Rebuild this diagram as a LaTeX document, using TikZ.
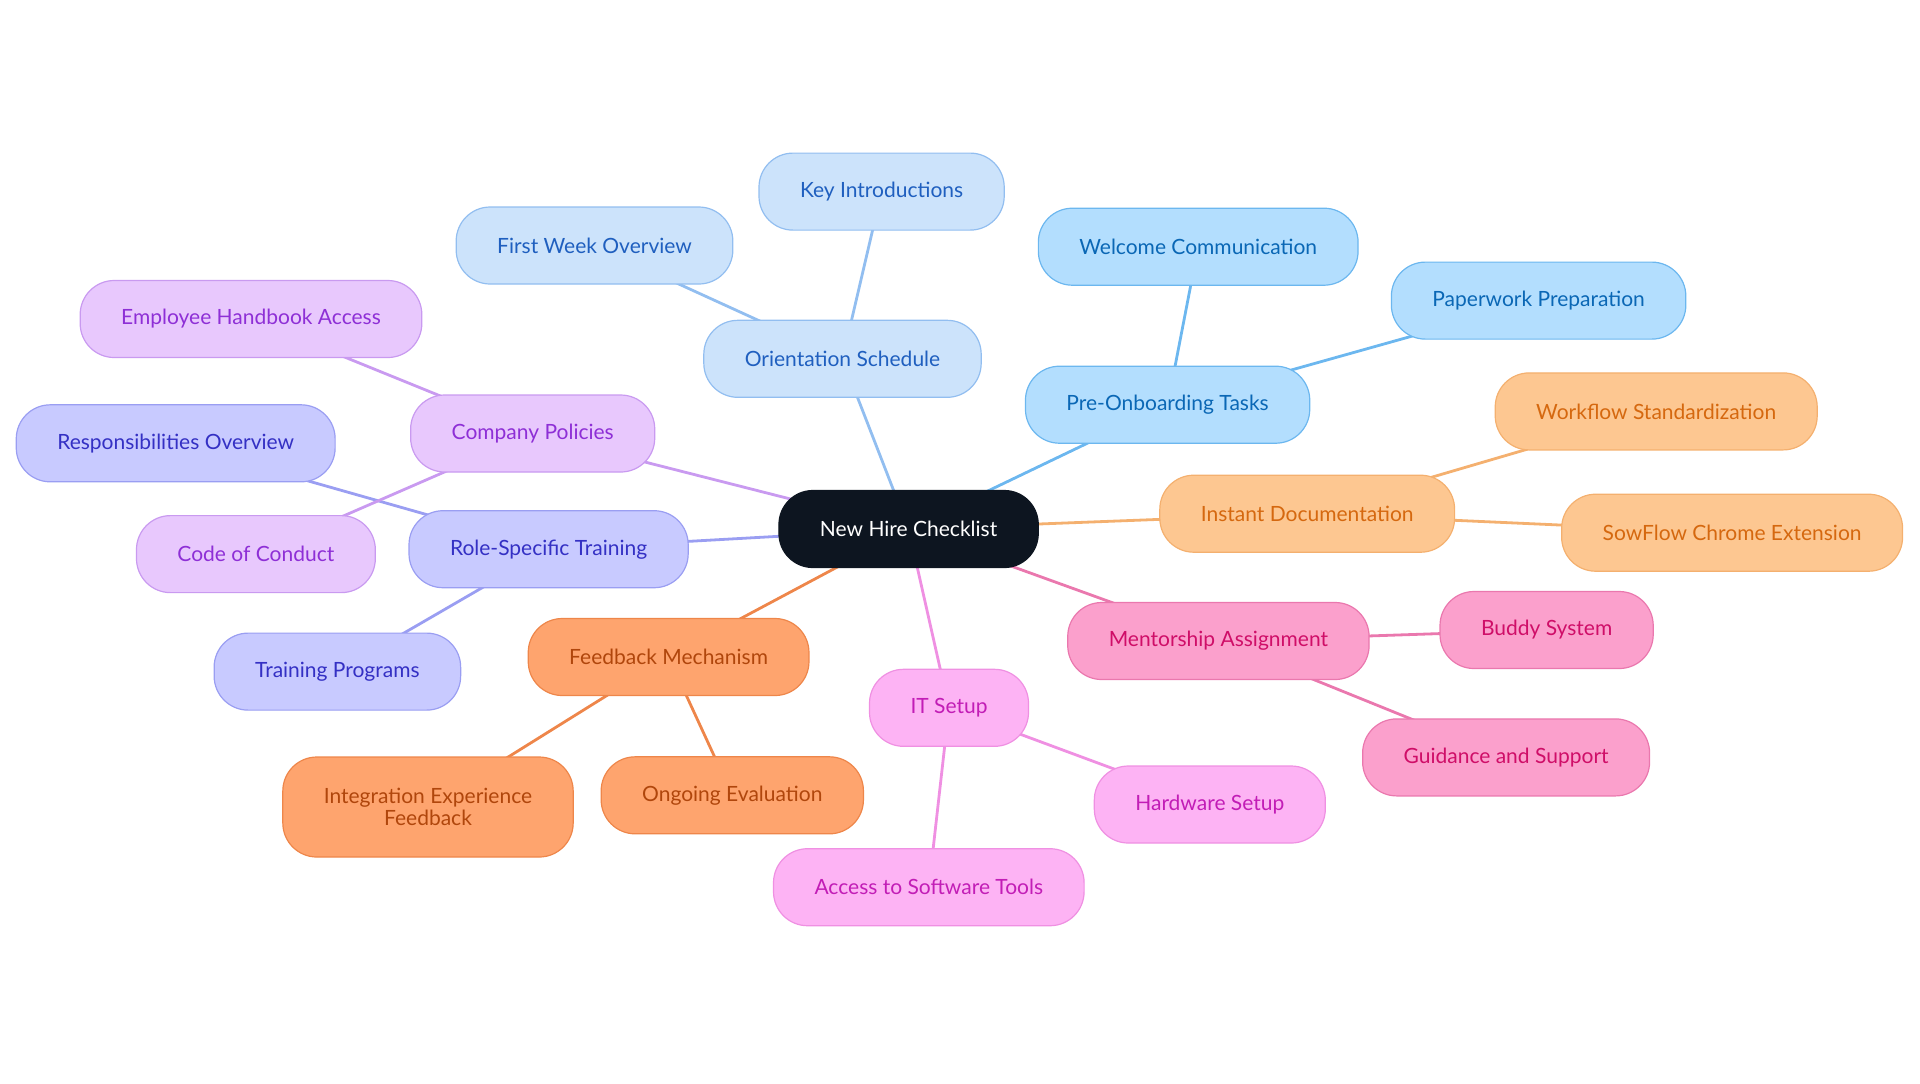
\documentclass[tikz,border=0pt]{standalone}
\usepackage{fontspec}
\setmainfont{Lato}
\usetikzlibrary{backgrounds}

\definecolor{raizfundo}{HTML}{0D1520}
\definecolor{azulA}{HTML}{CCE3FB}\definecolor{azulAb}{HTML}{92BEF0}\definecolor{azulAt}{HTML}{1F5FBF}
\definecolor{azulB}{HTML}{B3DEFE}\definecolor{azulBb}{HTML}{6CB7EF}\definecolor{azulBt}{HTML}{0A67B5}
\definecolor{laranjaA}{HTML}{FDC791}\definecolor{laranjaAb}{HTML}{F4B06F}\definecolor{laranjaAt}{HTML}{D5680F}
\definecolor{rosaA}{HTML}{FBA0CC}\definecolor{rosaAb}{HTML}{EA78AE}\definecolor{rosaAt}{HTML}{CF0E68}
\definecolor{magentaA}{HTML}{FDB3F4}\definecolor{magentaAb}{HTML}{EF90E2}\definecolor{magentaAt}{HTML}{C21DB6}
\definecolor{laranjaB}{HTML}{FEA46E}\definecolor{laranjaBb}{HTML}{EE864A}\definecolor{laranjaBt}{HTML}{B0460C}
\definecolor{lilasA}{HTML}{C8CAFF}\definecolor{lilasAb}{HTML}{9A9EF2}\definecolor{lilasAt}{HTML}{3430C4}
\definecolor{roxoA}{HTML}{E8C8FD}\definecolor{roxoAb}{HTML}{C99AF0}\definecolor{roxoAt}{HTML}{8E2FD6}

\begin{document}
\begin{tikzpicture}[
        x=0.5pt, y=-0.5pt,
        caixa/.style={rounded corners=17pt, draw, line width=0.6pt, minimum height=38.5pt,
            inner xsep=20.5pt, font=\fontsize{10.5}{11}\selectfont, align=center},
        raiz/.style={caixa, fill=raizfundo, draw=raizfundo, text=white},
        orient/.style={caixa, fill=azulA, draw=azulAb, text=azulAt},
        preonb/.style={caixa, fill=azulB, draw=azulBb, text=azulBt},
        instdoc/.style={caixa, fill=laranjaA, draw=laranjaAb, text=laranjaAt},
        mentor/.style={caixa, fill=rosaA, draw=rosaAb, text=rosaAt},
        itset/.style={caixa, fill=magentaA, draw=magentaAb, text=magentaAt},
        feedb/.style={caixa, fill=laranjaB, draw=laranjaBb, text=laranjaBt},
        treino/.style={caixa, fill=lilasA, draw=lilasAb, text=lilasAt},
        politica/.style={caixa, fill=roxoA, draw=roxoAb, text=roxoAt},
        ligacao/.style={line width=1.4pt}
    ]

        \useasboundingbox (0,0) rectangle (1920,1083);

        % ==================================================
        % RAIZ
        % ==================================================

        \node[raiz] (root) at (908.6,529) {New Hire Checklist};

        % Orientation Schedule
        \node[orient] (orient) at (842.5,358.8) {Orientation Schedule};
        \node[orient] (keyintro) at (881.6,191.6) {Key Introductions};
        \node[orient] (firstweek) at (594.5,245.5) {First Week Overview};

        % Pre-Onboarding Tasks
        \node[preonb] (preonb) at (1167.6,404.7) {Pre-Onboarding Tasks};
        \node[preonb] (welcome) at (1198.2,246.7) {Welcome Communication};
        \node[preonb] (paperwork) at (1538.6,300.6) {Paperwork Preparation};

        % Instant Documentation
        \node[instdoc] (instdoc) at (1307.2,513.7) {Instant Documentation};
        \node[instdoc] (workflow) at (1656.2,411.4) {Workflow Standardization};
        \node[instdoc] (sowflow) at (1732.1,532.7) {SowFlow Chrome Extension};

        % Mentorship Assignment
        \node[mentor] (mentor) at (1218.4,641) {Mentorship Assignment};
        \node[mentor] (buddy) at (1546.6,630) {Buddy System};
        \node[mentor] (guidance) at (1506.1,757.4) {Guidance and Support};

        % IT Setup
        \node[itset] (itsetup) at (949,707.8) {IT Setup};
        \node[itset] (hardware) at (1209.8,804.5) {Hardware Setup};
        \node[itset] (software) at (928.8,887.2) {Access to Software Tools};

        % Feedback Mechanism
        \node[feedb] (feedback) at (668.6,657) {Feedback Mechanism};
        \node[feedb, minimum height=50pt] (integration) at (428,807) {Integration Experience\\Feedback};
        \node[feedb] (ongoing) at (732.3,795.3) {Ongoing Evaluation};

        % Role-Specific Training
        \node[treino] (roletrain) at (548.6,549.2) {Role-Specific Training};
        \node[treino] (respons) at (175.7,443.3) {Responsibilities Overview};
        \node[treino] (trainprog) at (337.4,671.6) {Training Programs};

        % Company Policies
        \node[politica] (policies) at (532.7,433.5) {Company Policies};
        \node[politica] (handbook) at (251,319) {Employee Handbook Access};
        \node[politica] (conduct) at (255.9,554.1) {Code of Conduct};

        % ==================================================
        % LIGACOES
        % ==================================================

        \begin{pgfonlayer}{background}
        \draw[ligacao, azulAb] (root.center) -- (orient.center);
        \draw[ligacao, azulAb] (orient.center) -- (keyintro.center);
        \draw[ligacao, azulAb] (orient.center) -- (firstweek.center);
        \draw[ligacao, azulBb] (root.center) -- (preonb.center);
        \draw[ligacao, azulBb] (preonb.center) -- (welcome.center);
        \draw[ligacao, azulBb] (preonb.center) -- (paperwork.center);
        \draw[ligacao, laranjaAb] (root.center) -- (instdoc.center);
        \draw[ligacao, laranjaAb] (instdoc.center) -- (workflow.center);
        \draw[ligacao, laranjaAb] (instdoc.center) -- (sowflow.center);
        \draw[ligacao, rosaAb] (root.center) -- (mentor.center);
        \draw[ligacao, rosaAb] (mentor.center) -- (buddy.center);
        \draw[ligacao, rosaAb] (mentor.center) -- (guidance.center);
        \draw[ligacao, magentaAb] (root.center) -- (itsetup.center);
        \draw[ligacao, magentaAb] (itsetup.center) -- (hardware.center);
        \draw[ligacao, magentaAb] (itsetup.center) -- (software.center);
        \draw[ligacao, laranjaBb] (root.center) -- (feedback.center);
        \draw[ligacao, laranjaBb] (feedback.center) -- (integration.center);
        \draw[ligacao, laranjaBb] (feedback.center) -- (ongoing.center);
        \draw[ligacao, lilasAb] (root.center) -- (roletrain.center);
        \draw[ligacao, lilasAb] (roletrain.center) -- (respons.center);
        \draw[ligacao, lilasAb] (roletrain.center) -- (trainprog.center);
        \draw[ligacao, roxoAb] (root.center) -- (policies.center);
        \draw[ligacao, roxoAb] (policies.center) -- (handbook.center);
        \draw[ligacao, roxoAb] (policies.center) -- (conduct.center);
        \end{pgfonlayer}
    \end{tikzpicture}
\end{document}
